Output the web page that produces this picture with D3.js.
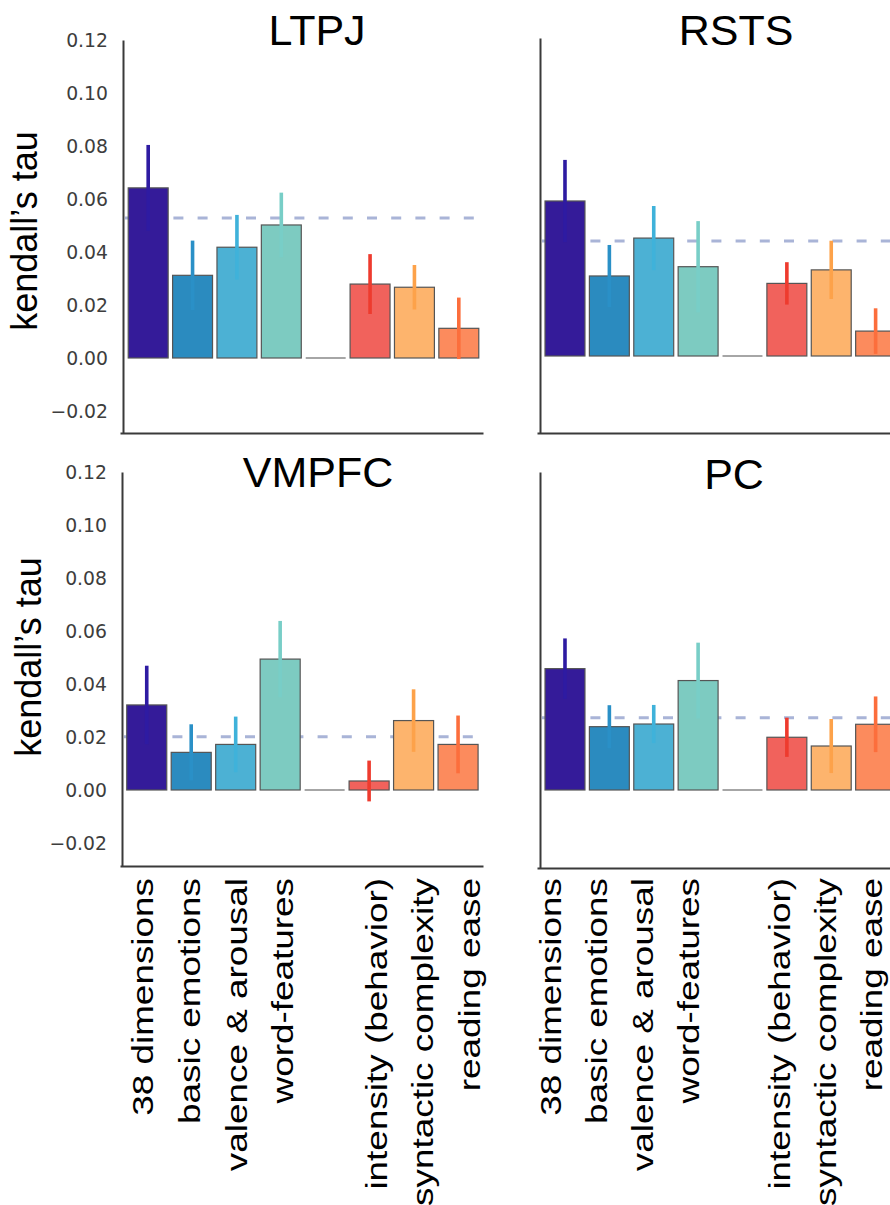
<!DOCTYPE html>
<html>
<head>
<meta charset="utf-8">
<script src="https://cdn.jsdelivr.net/npm/d3@7"></script>
<style>
  body { margin: 0; background: #fff; }
</style>
</head>
<body>
<div id="container"></div>
<script>
// categories on the x axis ("" is the empty gap slot)
const categories = ["38 dimensions", "basic emotions", "valence & arousal", "word-features", "",
                    "intensity (behavior)", "syntactic complexity", "reading ease"];
const regions = ["LTPJ", "RSTS", "VMPFC", "PC"];

// kendall's tau per region and its error (half width)
const tauLTPJ  = [0.0642, 0.0312, 0.0418, 0.0502, 0, 0.0279, 0.0267, 0.0112];
const ciLTPJ   = [0.0162, 0.0131, 0.0122, 0.0122, 0, 0.0113, 0.0084, 0.0116];
const tauRSTS  = [0.0585, 0.0302, 0.0445, 0.0337, 0, 0.0274, 0.0325, 0.0094];
const ciRSTS   = [0.0155, 0.0117, 0.0121, 0.0172, 0, 0.0080, 0.0110, 0.0086];
const tauVMPFC = [0.0321, 0.0142, 0.0172, 0.0494, 0, 0.0034, 0.0262, 0.0172];
const ciVMPFC  = [0.0148, 0.0106, 0.0105, 0.0144, 0, 0.0077, 0.0118, 0.0109];
const tauPC    = [0.0458, 0.0239, 0.0249, 0.0413, 0, 0.0199, 0.0166, 0.0248];
const ciPC     = [0.0114, 0.0081, 0.0072, 0.0143, 0, 0.0074, 0.0102, 0.0105];
// dashed reference level per region
const chance   = [0.0528, 0.0434, 0.0201, 0.0273];

const yTicks = [-0.02, 0.00, 0.02, 0.04, 0.06, 0.08, 0.10, 0.12];

// colours
const barFill  = ["#341b99", "#2b8bbf", "#4cb1d4", "#7dcbc1", "#ffffff", "#f1625c", "#fdb46d", "#fc8b5d"];
const lineCol  = ["#2e1ba2", "#2a90c7", "#3fb2da", "#78cec7", "#888888", "#ee3b2e", "#fda24a", "#fc6e3c"];

const svg = d3.select("#container")
  .append("svg")
  .attr("width", 890)
  .attr("height", 1205);

const pxPerUnit = 2650;

const panels = [
  {tau: tauLTPJ,  ci: ciLTPJ,  axisX: 123, top: 40,  bottom: 433, band: [126, 481],     spine: [120, 483], titleX: 317, titleY: 45,  left: true},
  {tau: tauRSTS,  ci: ciRSTS,  axisX: 540, top: 38,  bottom: 433, band: [542.8, 897.8], spine: [537, 900], titleX: 736, titleY: 45,  left: false},
  {tau: tauVMPFC, ci: ciVMPFC, axisX: 122, top: 472, bottom: 866, band: [124.5, 480.3], spine: [120, 483], titleX: 318, titleY: 487, left: true},
  {tau: tauPC,    ci: ciPC,    axisX: 540, top: 472, bottom: 868, band: [542.8, 897.8], spine: [537, 900], titleX: 734, titleY: 489, left: false}
];

panels.forEach(function(p, k) {
  let g = svg.append("g");

  let y = d3.scaleLinear()
    .domain([0.12 - (p.bottom - p.top) / pxPerUnit, 0.12])
    .range([p.bottom, p.top]);

  let x = d3.scaleBand()
    .domain(categories)
    .range(p.band)
    .paddingInner(0.1)
    .paddingOuter(0.05);

  let rows = categories.map(function(c, i) {
    return {cat: c, v: p.tau[i], e: p.ci[i], i: i};
  });

  // dashed level
  g.append("line")
    .attr("x1", p.axisX + 2)
    .attr("x2", p.axisX + 353)
    .attr("y1", y(chance[k]))
    .attr("y2", y(chance[k]))
    .attr("stroke", "#a9b4d7")
    .attr("stroke-width", 3)
    .attr("stroke-dasharray", "10,14.2");

  // bars
  g.selectAll("rect.bar")
    .data(rows.filter(d => d.v !== 0))
    .enter().append("rect")
    .attr("class", "bar")
    .attr("x", d => x(d.cat))
    .attr("width", x.bandwidth())
    .attr("y", d => Math.min(y(d.v), y(0)))
    .attr("height", d => Math.abs(y(d.v) - y(0)))
    .attr("fill", d => barFill[d.i])
    .attr("stroke", "#555")
    .attr("stroke-width", 1.2);

  // zero-height bar
  g.selectAll("line.zero")
    .data(rows.filter(d => d.v === 0))
    .enter().append("line")
    .attr("class", "zero")
    .attr("x1", d => x(d.cat))
    .attr("x2", d => x(d.cat) + x.bandwidth())
    .attr("y1", y(0))
    .attr("y2", y(0))
    .attr("stroke", "#888")
    .attr("stroke-width", 1.5);

  // error bars
  g.selectAll("line.err")
    .data(rows.filter(d => d.e > 0))
    .enter().append("line")
    .attr("class", "err")
    .attr("x1", d => x(d.cat) + x.bandwidth() / 2)
    .attr("x2", d => x(d.cat) + x.bandwidth() / 2)
    .attr("y1", d => y(d.v - d.e))
    .attr("y2", d => y(d.v + d.e))
    .attr("stroke", d => lineCol[d.i])
    .attr("stroke-width", 3.6);

  // y axis
  let yAxis = d3.axisLeft(y)
    .tickValues(yTicks)
    .tickSizeInner(0)
    .tickSizeOuter(0)
    .tickPadding(15)
    .tickFormat(p.left ? d3.format(".2f") : "");
  let ya = g.append("g")
    .attr("transform", "translate(" + p.axisX + ",0)")
    .call(yAxis);
  ya.select(".domain").attr("stroke", "#3a3a3a").attr("stroke-width", 2);
  ya.selectAll("text")
    .attr("font-family", "DejaVu Sans")
    .attr("font-size", 18.8)
    .attr("fill", "#3d3d3d");

  // x axis line
  let xAxis = d3.axisBottom(d3.scaleLinear().range(p.spine)).ticks(0).tickSizeOuter(0);
  let xa = g.append("g")
    .attr("transform", "translate(0," + p.bottom + ")")
    .call(xAxis);
  xa.select(".domain").attr("stroke", "#3a3a3a").attr("stroke-width", 2);

  // title
  g.append("text")
    .text(regions[k])
    .attr("x", p.titleX)
    .attr("y", p.titleY)
    .attr("text-anchor", "middle")
    .attr("font-family", "Liberation Sans, Arial, sans-serif")
    .attr("font-size", 43)
    .attr("fill", "#000");

  // y label
  if (p.left) {
    g.append("text")
      .text("kendall\u2019s tau")
      .attr("transform", "translate(" + (k == 0 ? 37 : 41) + "," + (k == 0 ? 231 : 657) + ") rotate(-90)")
      .attr("text-anchor", "middle")
      .attr("font-family", "Liberation Sans, Arial, sans-serif")
      .attr("font-size", 36)
      .attr("fill", "#000");
  }
});

// category labels under the bottom panels
const labelRanges = [[143, 470], [551, 872]];
labelRanges.forEach(function(r) {
  let lx = d3.scalePoint().domain(categories).range(r);
  svg.append("g").selectAll("text")
    .data(categories.filter(c => c !== ""))
    .enter().append("text")
    .text(d => d)
    .attr("transform", d => "translate(" + lx(d) + ",878) rotate(-90) scale(1.23,1)")
    .attr("dy", "0.34em")
    .attr("text-anchor", "end")
    .attr("font-family", "Liberation Sans, Arial, sans-serif")
    .attr("font-size", 30)
    .attr("fill", "#000");
});
</script>
</body>
</html>
